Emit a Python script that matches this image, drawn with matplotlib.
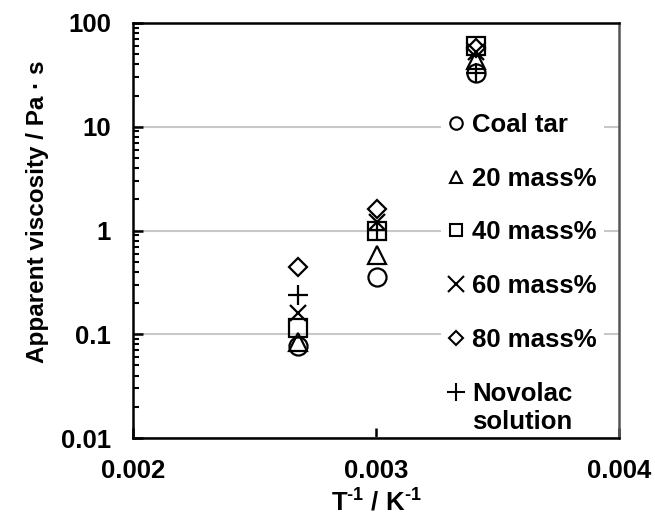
import matplotlib
matplotlib.use("Agg")
import matplotlib.pyplot as plt
from matplotlib.ticker import LogLocator, FixedLocator, NullFormatter
from matplotlib.lines import Line2D

plt.rcParams['font.family'] = ['Liberation Sans', 'DejaVu Sans']
plt.rcParams['font.weight'] = 'bold'
plt.rcParams['mathtext.fontset'] = 'custom'
plt.rcParams['mathtext.rm'] = 'Liberation Sans:bold'
plt.rcParams['mathtext.bf'] = 'Liberation Sans:bold'

# inverse temperature (1/K)
x_vals = [1/373, 1/333, 1/293]

labels = ["Coal tar", "20 mass%", "40 mass%", "60 mass%", "80 mass%", "Novolac"]
coal_tar = [0.077, 0.36, 33]
mass20 = [0.085, 0.58, 44]
mass40 = [0.115, 0.98, 60]
mass60 = [0.16, 1.2, 53]
mass80 = [0.44, 1.6, 58]
novolac = [0.24, 1.02, 33]
series = [coal_tar, mass20, mass40, mass60, mass80, novolac]

markers = ['o', '^', 's', 'x', 'D', '+']
sizes = [13, 13, 13, 12, 9.5, 14]
leg_sizes = [9, 9, 9, 11, 7, 13]

xticks = [0.002, 0.003, 0.004]
xticklabels = ["0.002", "0.003", "0.004"]
yticks = [0.01, 0.1, 1, 10, 100]
yticklabels = ["0.01", "0.1", "1", "10", "100"]

FS = 18.5

fig = plt.figure(figsize=(6.55, 5.15), dpi=100)
ax = fig.add_axes([133/655, 1 - 438/515, (619 - 133)/655, (438 - 23)/515])

for vals, m, s, lab in zip(series, markers, sizes, labels):
    ax.plot(x_vals, vals, linestyle='none', marker=m, markersize=s,
            markerfacecolor='none', markeredgecolor='black',
            markeredgewidth=1.6, color='black', label=lab, zorder=3)

ax.set_yscale('log')
ax.set_xlim(0.002, 0.004)
ax.set_ylim(0.01, 100)
ax.xaxis.set_major_locator(FixedLocator(xticks))
ax.set_xticklabels(xticklabels)
ax.yaxis.set_major_locator(FixedLocator(yticks))
ax.set_yticklabels(yticklabels)
ax.yaxis.set_minor_locator(LogLocator(base=10, subs=range(2, 10)))
ax.yaxis.set_minor_formatter(NullFormatter())
ax.tick_params(axis='both', which='major', direction='in', length=7, width=1.8,
               labelsize=FS, pad=16)
ax.tick_params(axis='x', which='major', pad=15)
ax.tick_params(axis='y', which='minor', direction='in', length=4, width=1.5)
ax.tick_params(axis='x', which='both', top=False)
ax.tick_params(axis='y', which='both', right=False)
ax.grid(axis='y', which='major', color='#c8c8c8', linewidth=1.5, zorder=0)

for side in ['left', 'bottom', 'top']:
    ax.spines[side].set_linewidth(1.8)
    ax.spines[side].set_color('black')
ax.spines['right'].set_linewidth(1.8)
ax.spines['right'].set_color('#555555')

ax.set_ylabel("Apparent viscosity / Pa \u00b7 s", fontsize=17.5, fontweight='bold')
ax.yaxis.set_label_coords((38 - 133)/486, (438 - 212)/415)
ax.set_xlabel(r"T$^{\text{-1}}$ / K$^{\text{-1}}$", fontsize=FS, fontweight='bold')
ax.xaxis.set_label_coords(0.5, (438 - 487)/415)
ax.xaxis.label.set_va('top')
ax.yaxis.label.set_va('center')

leg_handles = [Line2D([], [], linestyle='none', marker=m, markersize=s,
                      markerfacecolor='none', markeredgecolor='black',
                      markeredgewidth=1.5) for m, s in zip(markers, leg_sizes)]
leg = ax.legend(leg_handles, labels, loc='upper left',
                bbox_to_anchor=((441 - 133)/486, (438 - 105)/415),
                frameon=True, fancybox=False, edgecolor='none', facecolor='white',
                framealpha=1, prop={'size': FS, 'weight': 'bold'},
                handlelength=0.6, handletextpad=0.3, labelspacing=1.16,
                borderpad=0.3, borderaxespad=0)
leg.set_zorder(5)

fig.canvas.draw()
bb = leg.get_texts()[-1].get_window_extent()
inv = fig.transFigure.inverted()
x0, y0 = inv.transform((bb.x0, bb.y0))
fig.text(x0, y0 - 4/515, "solution", fontsize=FS, fontweight='bold',
         ha='left', va='top', zorder=10)

fig.savefig("out.png", dpi=100)
